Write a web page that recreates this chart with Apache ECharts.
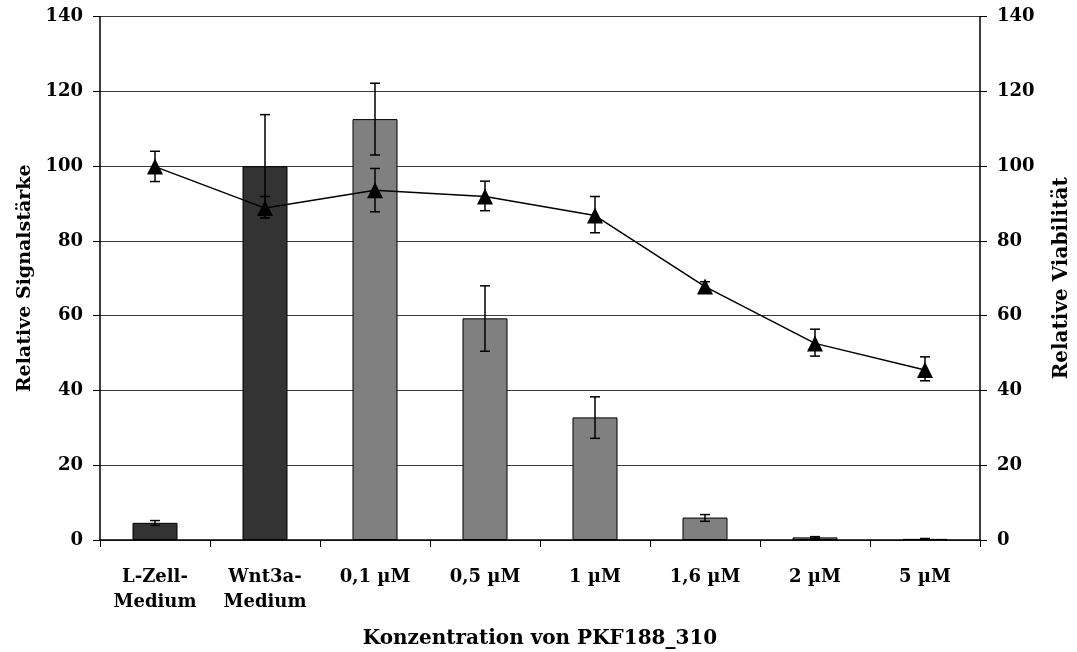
<!DOCTYPE html>
<html>
<head>
<meta charset="utf-8">
<script src="https://cdn.jsdelivr.net/npm/echarts@6/dist/echarts.min.js"></script>
<style>
html,body{margin:0;padding:0;background:#fff;}
#chart{width:1077px;height:652px;}
</style>
</head>
<body>
<div id="chart"></div>
<script>
const categories = ['L-Zell-\nMedium', 'Wnt3a-\nMedium', '0,1 µM', '0,5 µM', '1 µM', '1,6 µM', '2 µM', '5 µM'];
const signal = [4.6, 100, 112.6, 59.3, 32.8, 6.0, 0.7, 0.3];
const signalLow = [3.9, 86.2, 103.0, 50.5, 27.2, 5.0, 0.5, 0.2];
const signalHigh = [5.2, 113.8, 122.2, 68.0, 38.3, 6.8, 0.9, 0.4];
const viability = [99.9, 88.8, 93.6, 91.9, 86.8, 67.8, 52.6, 45.5];
const viabilityLow = [95.9, 86.2, 87.8, 88.1, 82.2, 66.6, 49.2, 42.6];
const viabilityHigh = [104.0, 91.9, 99.4, 96.0, 91.9, 69.1, 56.4, 49.0];
const yTicks = [0, 20, 40, 60, 80, 100, 120, 140];

const FONT = '"DejaVu Serif", serif';
const textStyle = { fontFamily: FONT, fontWeight: 'bold', fontSize: 18, color: '#000' };

function errorRender(params, api) {
  const x = api.value(0);
  const lo = api.coord([x, api.value(1)]);
  const hi = api.coord([x, api.value(2)]);
  const half = 5;
  const style = { stroke: '#000', lineWidth: 1.5 };
  return {
    type: 'group',
    children: [
      { type: 'line', shape: { x1: lo[0], y1: lo[1], x2: hi[0], y2: hi[1] }, style: style },
      { type: 'line', shape: { x1: lo[0] - half, y1: lo[1], x2: lo[0] + half, y2: lo[1] }, style: style },
      { type: 'line', shape: { x1: hi[0] - half, y1: hi[1], x2: hi[0] + half, y2: hi[1] }, style: style }
    ]
  };
}

const chart = echarts.init(document.getElementById('chart'), null, { renderer: 'canvas' });
const yAxisCommon = {
  type: 'value', min: yTicks[0], max: yTicks[yTicks.length - 1], interval: 20,
  nameLocation: 'middle',
  axisLine: { show: true, lineStyle: { color: '#000', width: 1.5 } },
  axisTick: { show: true, length: 7, lineStyle: { color: '#000', width: 1 } },
  axisLabel: Object.assign({}, textStyle, { margin: 17 })
};
chart.setOption({
  animation: false,
  backgroundColor: '#fff',
  grid: { left: 100, right: 97, top: 16.7, bottom: 112, containLabel: false, outerBoundsMode: 'none' },
  xAxis: {
    type: 'category',
    data: categories,
    boundaryGap: true,
    name: 'Konzentration von PKF188_310',
    nameLocation: 'middle',
    nameGap: 89,
    nameTextStyle: Object.assign({}, textStyle, { fontSize: 20 }),
    axisLine: { lineStyle: { color: '#000', width: 1.5 } },
    axisTick: { show: true, length: 7, alignWithLabel: false, lineStyle: { color: '#000', width: 1 } },
    axisLabel: Object.assign({}, textStyle, { margin: 25, lineHeight: 25, interval: 0 })
  },
  yAxis: [
    Object.assign({}, yAxisCommon, {
      position: 'left',
      name: 'Relative Signalstärke',
      nameGap: 65,
      nameTextStyle: Object.assign({}, textStyle, { fontSize: 19 }),
      splitLine: { show: true, lineStyle: { color: '#3a3a3a', width: 1 } }
    }),
    Object.assign({}, yAxisCommon, {
      position: 'right',
      name: 'Relative Viabilität',
      nameGap: 72,
      nameRotate: 90,
      nameTextStyle: Object.assign({}, textStyle, { fontSize: 20 }),
      splitLine: { show: false }
    })
  ],
  series: [
    {
      type: 'bar',
      yAxisIndex: 0,
      barWidth: 45,
      data: signal.map((v, i) => ({
        value: v,
        itemStyle: { color: i < 2 ? '#333333' : '#808080', borderColor: '#000', borderWidth: 1 }
      })),
      z: 2
    },
    {
      type: 'custom',
      yAxisIndex: 0,
      renderItem: errorRender,
      data: categories.map((c, i) => [i, signalLow[i], signalHigh[i]]),
      z: 3
    },
    {
      type: 'line',
      yAxisIndex: 1,
      data: viability,
      symbol: 'triangle',
      symbolSize: 16,
      itemStyle: { color: '#000' },
      lineStyle: { color: '#000', width: 1.5 },
      z: 5
    },
    {
      type: 'custom',
      yAxisIndex: 1,
      renderItem: errorRender,
      data: categories.map((c, i) => [i, viabilityLow[i], viabilityHigh[i]]),
      z: 4
    }
  ]
});
</script>
</body>
</html>
